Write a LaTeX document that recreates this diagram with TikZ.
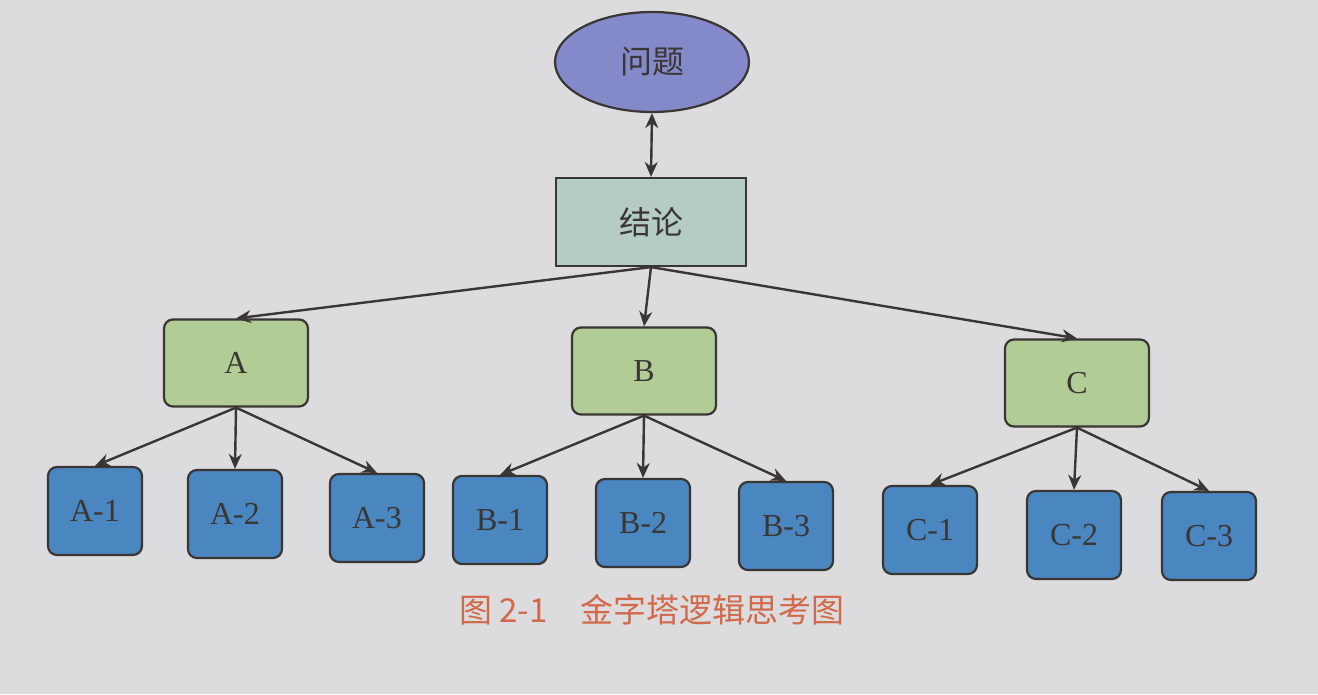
\documentclass[tikz,border=0pt]{standalone}
\usepackage{fontspec}
\setmainfont{Liberation Serif}
\newfontfamily\cjk{Noto Sans CJK SC}
\usetikzlibrary{shapes.geometric,arrows.meta}
\definecolor{bg}{HTML}{DCDCDE}
\definecolor{qfill}{HTML}{8489C9}
\definecolor{cfill}{HTML}{B5CBC6}
\definecolor{gfill}{HTML}{B2CC96}
\definecolor{lfill}{HTML}{4A86C0}
\definecolor{cap}{HTML}{D2694A}
\definecolor{ln}{HTML}{3A3634}
\tikzset{
  box/.style={draw=ln,line width=2.2pt,minimum width=144pt,minimum height=87pt,font=\fontsize{32}{34}\selectfont,text=ln},
  mid/.style={box,fill=gfill,rounded corners=9pt},
  leaf/.style={box,fill=lfill,rounded corners=9pt,minimum width=94pt,minimum height=88pt},
  arr/.style={draw=ln,line width=2.4pt,-{Stealth[length=15pt,width=13pt]}}
}
\begin{document}
\begin{tikzpicture}[x=1pt,y=-1pt]
\fill[bg] (0,0) rectangle (1318,694);
\useasboundingbox (0,0) rectangle (1318,694);
\node[ellipse,draw=ln,line width=2.2pt,fill=qfill,minimum width=194pt,minimum height=100pt,font=\cjk\fontsize{32}{34}\selectfont,text=ln] (q) at (652,62) {问题};
\node[box,fill=cfill,minimum width=190pt,minimum height=88pt,font=\cjk\fontsize{32}{34}\selectfont] (k) at (651,222) {结论};
\node[mid] (A) at (236,363) {A};
\node[mid] (B) at (644,371) {B};
\node[mid] (C) at (1077,383) {C};
\node[leaf] (A1) at (95,511) {A-1};
\node[leaf] (A2) at (235,514) {A-2};
\node[leaf] (A3) at (377,518) {A-3};
\node[leaf] (B1) at (500,520) {B-1};
\node[leaf] (B2) at (643,523) {B-2};
\node[leaf] (B3) at (786,526) {B-3};
\node[leaf] (C1) at (930,530) {C-1};
\node[leaf] (C2) at (1074,535) {C-2};
\node[leaf] (C3) at (1209,536) {C-3};
\draw[arr,{Stealth[length=15pt,width=13pt]}-{Stealth[length=15pt,width=13pt]}] (k.north) -- (q.south);
\foreach \c in {A,B,C} \draw[arr] (k.south) -- (\c.north);
\foreach \p in {A,B,C} \foreach \i in {1,2,3} \draw[arr] (\p.south) -- (\p\i.north);
\node[font=\cjk\fontsize{33}{35}\selectfont,text=cap] (cp) at (652,610) {图 2-1\hspace{1em}金字塔逻辑思考图};
\end{tikzpicture}
\end{document}
